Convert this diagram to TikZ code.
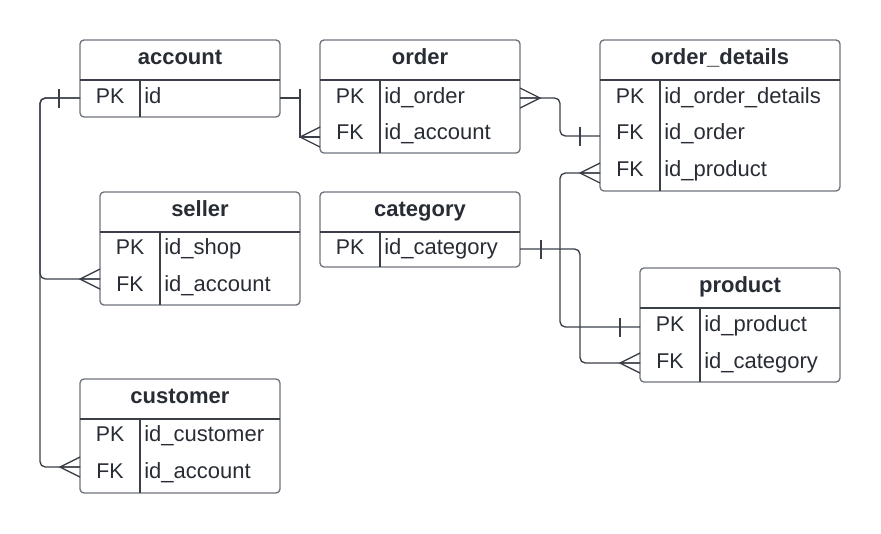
\documentclass[tikz,border=0pt]{standalone}
\usepackage{fontspec}
\setmainfont{Liberation Sans}
\usetikzlibrary{fit,calc}
\definecolor{boxcol}{RGB}{110,115,125}
\definecolor{linecol}{RGB}{58,63,72}
\definecolor{txtcol}{RGB}{40,44,52}
\tikzset{
 box/.style={draw=boxcol, line width=1pt, rounded corners=3pt, inner sep=0pt, outer sep=0pt},
 sep/.style={draw=linecol, line width=0.9pt},
 conn/.style={draw=linecol, line width=1pt, rounded corners=4pt},
 hdr/.style={anchor=base, inner sep=0pt, text=txtcol, font=\fontsize{16.5}{19}\selectfont\bfseries},
 keytxt/.style={anchor=base, inner sep=0pt, text=txtcol, font=\fontsize{16}{19}\selectfont},
 fldtxt/.style={anchor=base west, inner sep=0pt, text=txtcol, font=\fontsize{16.5}{19}\selectfont},
 rowpt/.style={inner sep=0pt, minimum height=0pt, outer sep=0pt},
 crowR/.pic={\draw[linecol, line width=1pt] (0,-10) -- (-20,0) -- (0,10) (-20,0) -- (0,0);},
 crowL/.pic={\draw[linecol, line width=1pt] (0,-10) -- (20,0) -- (0,10) (20,0) -- (0,0);},
 barV/.pic={\draw[linecol, line width=1pt] (0,-9.5) -- (0,9.5);},
}
% name, x1, y1, x2, y2, header y, divider x, title
\newcommand\ertable[8]{%
 \node[box, fit={(#2,#3) (#4,#5)}] (#1) {};
 \draw[sep] (#2,#6) -- (#4,#6);
 \draw[sep] (#7,#6) -- (#7,#5);
 \node[hdr] (#1-title) at ({(#2+#4)/2},{(#3+#6)/2+4}) {#8};
}
% name, x1, x2, divider x, attach y, baseline y, key, field
\newcommand\errow[8]{%
 \node[rowpt, minimum width={(#3-#2)*0.75pt}] (#1) at ({(#2+#3)/2},#5) {};
 \node[keytxt] (#1-k) at ({(#2+#4)/2},#6) {#7};
 \node[fldtxt] (#1-f) at ({#4+4},#6) {#8};
}
\begin{document}
\begin{tikzpicture}[x=0.75pt,y=-0.75pt]
\useasboundingbox (0,0) rectangle (881,533);
% tables
\ertable{account}{80}{40}{280}{117}{80}{140}{account}
\errow{account-1}{80}{280}{140}{98}{103}{PK}{id}

\ertable{order}{320}{40}{520}{153}{80}{380}{order}
\errow{order-1}{320}{520}{380}{98}{103}{PK}{id\_order}
\errow{order-2}{320}{520}{380}{137}{139.5}{FK}{id\_account}

\ertable{od}{600}{40}{840}{191}{80}{660}{order\_details}
\errow{od-1}{600}{840}{660}{98}{103}{PK}{id\_order\_details}
\errow{od-2}{600}{840}{660}{136}{139.5}{FK}{id\_order}
\errow{od-3}{600}{840}{660}{173}{176.5}{FK}{id\_product}

\ertable{seller}{100}{192}{300}{305}{232}{160}{seller}
\errow{seller-1}{100}{300}{160}{250}{254.5}{PK}{id\_shop}
\errow{seller-2}{100}{300}{160}{279}{291}{FK}{id\_account}

\ertable{category}{320}{192}{520}{267}{232}{380}{category}
\errow{category-1}{320}{520}{380}{249}{254}{PK}{id\_category}

\ertable{product}{640}{268}{840}{382}{308}{700}{product}
\errow{product-1}{640}{840}{700}{327}{331}{PK}{id\_product}
\errow{product-2}{640}{840}{700}{363}{368}{FK}{id\_category}

\ertable{customer}{80}{379}{280}{493}{419}{140}{customer}
\errow{customer-1}{80}{280}{140}{437}{441.5}{PK}{id\_customer}
\errow{customer-2}{80}{280}{140}{467}{478.5}{FK}{id\_account}

% routing columns
\coordinate (lx) at (40,0);
\coordinate (mx) at (300,0);
\coordinate (rx) at (560,0);
\coordinate (sx) at (580,0);

% connectors
\draw[conn] (account-1.west) -- (account-1.west -| lx) -- (lx |- seller-2.west) -- (seller-2.west);
\draw[conn] (account-1.west) -- (account-1.west -| lx) -- (lx |- customer-2.west) -- (customer-2.west);
\draw[conn, rounded corners=0pt] (account-1.east) -- (account-1.east -| mx) -- (mx |- order-2.west) -- (order-2.west);
\draw[conn] (order-1.east) -- (order-1.east -| rx) -- (rx |- od-2.west) -- (od-2.west);
\draw[conn] (od-3.west) -- (od-3.west -| rx) -- (rx |- product-1.west) -- (product-1.west);
\draw[conn] (category-1.east) -- (category-1.east -| sx) -- (sx |- product-2.west) -- (product-2.west);

% end marks
\pic at ($(account-1.west)+(-21,0)$) {barV};
\pic at (seller-2.west) {crowR};
\pic at (customer-2.west) {crowR};
\pic at ($(account-1.east)+(20,0)$) {barV};
\pic at (order-2.west) {crowR};
\pic at (order-1.east) {crowL};
\pic at ($(od-2.west)+(-20,0)$) {barV};
\pic at (od-3.west) {crowR};
\pic at ($(product-1.west)+(-20,0)$) {barV};
\pic at ($(category-1.east)+(21,0)$) {barV};
\pic at (product-2.west) {crowR};
\end{tikzpicture}
\end{document}
